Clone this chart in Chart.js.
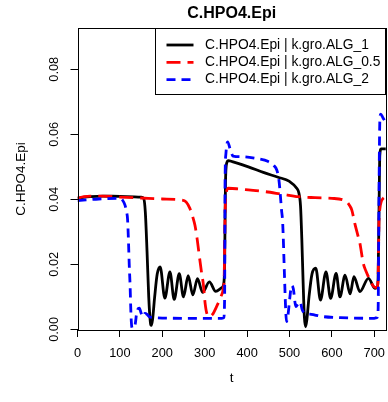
<!DOCTYPE html>
<html>
<head>
<meta charset="utf-8">
<script src="https://cdn.jsdelivr.net/npm/chart.js@4/dist/chart.umd.min.js"></script>
<style>
    body { margin: 0; background: #fff; }
    canvas { display: block; }
</style>
</head>
<body>
<canvas id="hpo4" width="388" height="402"></canvas>
<script>

// C.HPO4.Epi over t, one pair of arrays per run
var tAlg1 = [0,30,60,100,150,156,160,164,168,172,174,177,182,188,195,206,218,228,240,250,
             261,272,283,295,311,326,340,345,347,349,352,356,365,403,440,473,500,517,522,526,
             529,532,535,538,541,546,553,562,573,586,597,610,619,631,643,652,666,686,702,707,
             709,711,713,716,727];
var cAlg1 = [0.0404,0.0408,0.0410,0.0409,0.0407,0.0403,0.0360,0.0240,0.0100,0.0020,
             0.0012,0.0030,0.0100,0.0170,0.0192,0.0096,0.0177,0.0092,0.0171,0.0100,
             0.0165,0.0106,0.0156,0.0114,0.0146,0.0117,0.0128,0.0140,0.0200,0.0450,
             0.0512,0.0519,0.0516,0.0500,0.0482,0.0468,0.0455,0.0434,0.0420,0.0380,
             0.0280,0.0150,0.0040,0.0008,0.0030,0.0100,0.0170,0.0188,0.0090,0.0177,
             0.0095,0.0172,0.0100,0.0167,0.0109,0.0162,0.0116,0.0157,0.0126,0.0130,
             0.0160,0.0350,0.0535,0.0555,0.0555];

var tAlg05 = [0,15,30,60,100,150,200,246,256,265,272,277,282,286,292,297,301,305,311,318,
              328,338,344,346,348,350,356,380,403,440,481,521,560,600,625,635,642,647,654,660,
              666,674,680,686,694,702,707,709,711,713,717,721,727];
var cAlg05 = [0.0403,0.0408,0.0410,0.0410,0.0407,0.0404,0.0401,0.0398,0.0392,0.0372,
              0.0345,0.0320,0.0280,0.0239,0.0180,0.0136,0.0080,0.0049,0.0039,0.0045,
              0.0070,0.0100,0.0126,0.0160,0.0350,0.0410,0.0434,0.0432,0.0429,0.0424,
              0.0416,0.0408,0.0405,0.0403,0.0399,0.0393,0.0380,0.0367,0.0326,0.0295,
              0.0265,0.0203,0.0180,0.0162,0.0140,0.0129,0.0130,0.0160,0.0330,0.0370,
              0.0395,0.0403,0.0408];

var tAlg2 = [0,20,50,100,106,112,116,118,120,122,124,126,128,130,133,136,140,146,150,154,
             159,164,169,183,250,340,345,347,348,350,354,360,367,387,419,450,462,470,475,478,
             481,484,488,491,493,497,501,505,509,515,520,525,530,537,548,560,580,620,700,706,
             709,711,713,715,720,727];
var cAlg2 = [0.0396,0.0398,0.0401,0.0403,0.0398,0.0382,0.0360,0.0340,0.0280,0.0200,
             0.0136,0.0050,0.0008,0.0003,0.0007,0.0015,0.0054,0.0065,0.0050,0.0039,
             0.0049,0.0046,0.0039,0.0036,0.0034,0.0034,0.0036,0.0100,0.0450,0.0540,
             0.0577,0.0555,0.0533,0.0531,0.0526,0.0516,0.0505,0.0490,0.0460,0.0420,
             0.0370,0.0326,0.0172,0.0060,0.0024,0.0050,0.0100,0.0135,0.0125,0.0070,
             0.0078,0.0085,0.0060,0.0049,0.0047,0.0044,0.0039,0.0036,0.0034,0.0036,
             0.0060,0.0400,0.0640,0.0662,0.0652,0.0636];

var seriesNames = ["C.HPO4.Epi | k.gro.ALG_1", "C.HPO4.Epi | k.gro.ALG_0.5", "C.HPO4.Epi | k.gro.ALG_2"];
var xTicks = [0,100,200,300,400,500,600,700];
var yTicks = [0,0.02,0.04,0.06,0.08];

var FONT = '"Liberation Sans", Arial, Helvetica, sans-serif';

function toPoints(ts, vs) {
    return ts.map(function(t, i) { return {x: t, y: vs[i]}; });
}

// box round the plot region plus the boxed legend in the top right corner
var rFrame = {
    id: 'rFrame',
    afterDraw: function(chart) {
        var ctx = chart.ctx, a = chart.chartArea;
        ctx.save();
        ctx.strokeStyle = '#000';
        ctx.lineWidth = 1;
        ctx.strokeRect(Math.round(a.left) + 0.5, Math.round(a.top) + 0.5,
                       Math.round(a.right - a.left) - 1, Math.round(a.bottom - a.top));

        ctx.font = '13.8px ' + FONT;
        var w = 0;
        chart.data.datasets.forEach(function(ds) { w = Math.max(w, ctx.measureText(ds.label).width); });
        var right = Math.round(a.right) - 0.5, top = Math.round(a.top) + 0.5;
        var left = Math.round(right - w - 55) + 0.5;
        ctx.fillStyle = '#fff';
        ctx.fillRect(left, top, right - left, 66);
        ctx.strokeRect(left, top, right - left, 66);

        chart.data.datasets.forEach(function(ds, i) {
            var y = top + 16.5 + i * 17.3;
            ctx.beginPath();
            ctx.setLineDash(ds.borderDash || []);
            ctx.strokeStyle = ds.borderColor;
            ctx.lineWidth = ds.borderWidth;
            ctx.moveTo(left + 11, y);
            ctx.lineTo(left + 38, y);
            ctx.stroke();
            ctx.setLineDash([]);
            ctx.fillStyle = '#000';
            ctx.textBaseline = 'middle';
            ctx.fillText(ds.label, left + 49.5, y);
        });
        ctx.restore();
    }
};

function drawHpo4(id) {
    var ctx = document.getElementById(id);

    new Chart(ctx, {
        type: 'line',
        data: {
            datasets: [
                { label: seriesNames[0], data: toPoints(tAlg1, cAlg1), borderColor: '#000000',
                  borderWidth: 2.8, order: 3 },
                { label: seriesNames[1], data: toPoints(tAlg05, cAlg05), borderColor: '#ff0000',
                  borderWidth: 2.8, borderDash: [14, 7], order: 2 },
                { label: seriesNames[2], data: toPoints(tAlg2, cAlg2), borderColor: '#0000ff',
                  borderWidth: 2.8, borderDash: [9, 6], order: 1 }
            ]
        },
        options: {
            responsive: false,
            animation: false,
            events: [],
            elements: {
                point: { radius: 0 },
                line: { cubicInterpolationMode: 'monotone', fill: false }
            },
            layout: { padding: { left: 0, right: 2, top: 0, bottom: 0 } },
            scales: {
                x: {
                    type: 'linear',
                    min: 0,
                    max: 727.6,
                    afterBuildTicks: function(s) { s.ticks = xTicks.map(function(v) { return {value: v}; }); },
                    afterFit: function(s) { s.height = 72; s.paddingLeft = 0; s.paddingRight = 0; },
                    border: { display: false },
                    grid: { drawOnChartArea: false, drawTicks: true, tickLength: 7, color: '#000', lineWidth: 1 },
                    ticks: { color: '#000', padding: 9, maxRotation: 0, autoSkip: false,
                             font: { family: FONT, size: 12.8 } },
                    title: { display: true, text: 't', color: '#000', padding: { top: 0, bottom: 16 },
                             font: { family: FONT, size: 13.5 } }
                },
                y: {
                    min: -0.0002,
                    max: 0.0927,
                    afterBuildTicks: function(s) { s.ticks = yTicks.map(function(v) { return {value: v}; }); },
                    afterFit: function(s) { s.width = 77.5; s.paddingTop = 0; s.paddingBottom = 0; },
                    border: { display: false },
                    grid: { drawOnChartArea: false, drawTicks: true, tickLength: 7, color: '#000', lineWidth: 1 },
                    ticks: { color: '#000', padding: 3.5, minRotation: 90, maxRotation: 90, crossAlign: 'center',
                             autoSkip: false, font: { family: FONT, size: 12.8 },
                             callback: function(v) { return v.toFixed(2); } },
                    title: { display: true, text: 'C.HPO4.Epi', color: '#000', padding: { top: 13, bottom: 0 },
                             font: { family: FONT, size: 13.5 } }
                }
            },
            plugins: {
                legend: { display: false },
                tooltip: { enabled: false },
                title: {
                    display: true,
                    fullSize: false,
                    text: 'C.HPO4.Epi',
                    color: '#000',
                    padding: { top: 4, bottom: 4.8 },
                    font: { family: FONT, size: 16, weight: 'bold' }
                }
            }
        },
        plugins: [rFrame]
    });
}

drawHpo4("hpo4");
</script>
</body>
</html>
